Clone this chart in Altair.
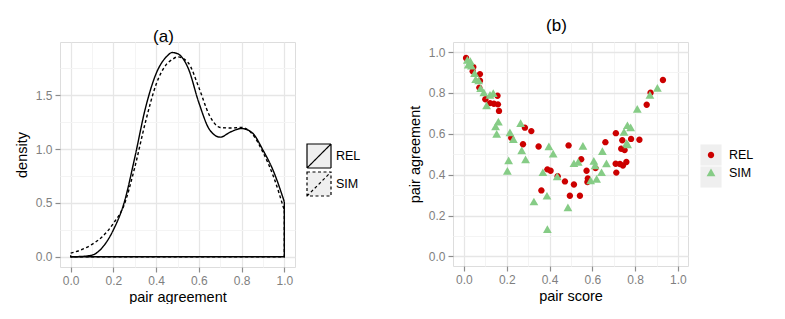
import altair as alt
import pandas as pd

# ---------------- panel (a): density curves ----------------
dens_x = [0.00, 0.05, 0.10, 0.15, 0.20, 0.25, 0.30, 0.35, 0.40, 0.45, 0.475,
          0.50, 0.55, 0.60, 0.65, 0.70, 0.75, 0.80, 0.85, 0.90, 0.95, 1.00]
dens_rel = [0.0, 0.003, 0.015, 0.09, 0.25, 0.50, 0.92, 1.38, 1.70, 1.86, 1.895,
            1.885, 1.75, 1.43, 1.18, 1.11, 1.16, 1.19, 1.15, 0.99, 0.79, 0.51]
dens_sim = [0.034, 0.065, 0.115, 0.19, 0.31, 0.48, 0.83, 1.25, 1.60, 1.79, 1.83,
            1.855, 1.80, 1.57, 1.31, 1.20, 1.195, 1.20, 1.14, 0.97, 0.74, 0.43]

series = ["REL", "SIM"]
key_ids = ["k1", "k2"]  # ids for the grey legend-key backgrounds of panel (b)

# ---------------- panel (b): scatter ----------------
rel_score = [0.010, 0.044, 0.041, 0.075, 0.075, 0.072, 0.100, 0.122, 0.140, 0.159,
             0.157, 0.164, 0.221, 0.276, 0.285, 0.315, 0.349, 0.362, 0.390, 0.405,
             0.438, 0.472, 0.489, 0.495, 0.514, 0.542, 0.548, 0.573, 0.579, 0.577,
             0.615, 0.661, 0.710, 0.709, 0.729, 0.743, 0.759, 0.712, 0.740, 0.781,
             0.820, 0.735, 0.751, 0.854, 0.872, 0.930]
rel_agree = [0.971, 0.927, 0.906, 0.892, 0.860, 0.826, 0.769, 0.750, 0.747, 0.744,
             0.786, 0.712, 0.580, 0.549, 0.630, 0.613, 0.538, 0.323, 0.426, 0.419,
             0.392, 0.367, 0.543, 0.297, 0.352, 0.297, 0.475, 0.419, 0.381, 0.364,
             0.432, 0.559, 0.603, 0.453, 0.452, 0.445, 0.462, 0.410, 0.568, 0.575,
             0.571, 0.527, 0.520, 0.742, 0.801, 0.863]

sim_score = [0.016, 0.030, 0.020, 0.035, 0.050, 0.055, 0.069, 0.078, 0.093, 0.122,
             0.137, 0.106, 0.161, 0.148, 0.153, 0.215, 0.231, 0.265, 0.270, 0.288,
             0.209, 0.203, 0.397, 0.417, 0.369, 0.436, 0.388, 0.327, 0.390, 0.486,
             0.514, 0.534, 0.556, 0.607, 0.613, 0.647, 0.666, 0.643, 0.592, 0.620,
             0.748, 0.764, 0.779, 0.760, 0.765, 0.810, 0.869, 0.904]
sim_agree = [0.959, 0.953, 0.935, 0.930, 0.894, 0.864, 0.858, 0.820, 0.800, 0.788,
             0.796, 0.736, 0.657, 0.633, 0.597, 0.604, 0.571, 0.649, 0.516, 0.472,
             0.467, 0.416, 0.536, 0.500, 0.409, 0.389, 0.294, 0.266, 0.131, 0.237,
             0.453, 0.460, 0.538, 0.465, 0.443, 0.512, 0.452, 0.409, 0.369, 0.377,
             0.607, 0.639, 0.629, 0.552, 0.545, 0.719, 0.788, 0.822]

FONT = "Liberation Sans"
GRID_MAJOR = "#e6e6e6"
GRID_MINOR = "#f4f4f4"
TICK = "#8c8c8c"

# -------- build tables --------
curve_rows = []
for s, vals in zip(series, [dens_rel, dens_sim]):
    for i, (x, y) in enumerate(zip(dens_x, vals)):
        curve_rows.append({"series": s, "x": x, "y": y, "o": i})
curve_df = pd.DataFrame(curve_rows)

close_rows = []
for s, vals in zip(series, [dens_rel, dens_sim]):
    pts = [(dens_x[-1], vals[-1]), (dens_x[-1], 0.0), (dens_x[0], 0.0), (dens_x[0], vals[0])]
    for i, (x, y) in enumerate(pts):
        close_rows.append({"series": s, "x": x, "y": y, "o": i})
close_df = pd.DataFrame(close_rows)

pts_df = pd.concat([
    pd.DataFrame({"series": "REL", "score": rel_score, "agree": rel_agree}),
    pd.DataFrame({"series": "SIM", "score": sim_score, "agree": sim_agree}),
], ignore_index=True)
pts_df["ord"] = range(len(pts_df))

key_df = pd.DataFrame({"key": key_ids})


def axis(values, mod, orient):
    test = f"round(datum.value*{mod})%2==0"
    return alt.Axis(
        values=values,
        labelExpr=f"{test} ? format(datum.value, '.1f') : ''",
        gridColor={"condition": {"test": test, "value": GRID_MAJOR}, "value": GRID_MINOR},
        gridWidth={"condition": {"test": test, "value": 1.3}, "value": 1},
        tickColor={"condition": {"test": test, "value": TICK}, "value": "transparent"},
        tickSize=5, tickWidth=1.2, labelPadding=3, domain=False,
        labelColor="#7f7f7f", labelFontSize=12, labelFont=FONT,
        titleFont=FONT, titleFontSize=14.5, titleFontWeight="normal", titleColor="black",
        titlePadding=4 if orient == "x" else 6,
    )


tenth = [round(i * 0.1, 1) for i in range(11)]
quarter = [i * 0.25 for i in range(8)]

xa = alt.X("x:Q", title="pair agreement",
           scale=alt.Scale(domain=[-0.05, 1.05], nice=False, zero=False),
           axis=axis(tenth, 10, "x"))
ya = alt.Y("y:Q", title="density",
           scale=alt.Scale(domain=[-0.095, 1.993], nice=False, zero=False),
           axis=axis(quarter, 4, "y"))

legend_a = alt.Legend(
    title=None, orient="none", legendX=246, legendY=101,
    symbolType="M-1,-1H1V1H-1Z M-1,1L1,-1", symbolSize=576,
    symbolFillColor="#efefef", symbolStrokeColor="black", symbolStrokeWidth=1.2,
    labelFont=FONT, labelFontSize=12.5, labelColor="black", labelOffset=4,
    rowPadding=-4, padding=0,
)
dash = alt.StrokeDash("series:N", scale=alt.Scale(domain=series, range=[[1, 0], [3, 2.5]]),
                      legend=legend_a)

curve = alt.Chart(curve_df).mark_line(color="black", strokeWidth=1.4, interpolate="monotone").encode(
    x=xa, y=ya, strokeDash=dash, order="o:Q")
closing = alt.Chart(close_df).mark_line(color="black", strokeWidth=1.4).encode(
    x=xa, y=ya, strokeDash=dash, order="o:Q")

title_kw = dict(font=FONT, fontSize=17, fontWeight="normal", dx=-14, offset=-4)

panel_a = alt.layer(curve, closing).properties(
    width=235, height=225, title=alt.TitleParams("(a)", **title_kw))

# ---------------- panel (b) ----------------
xb = alt.X("score:Q", title="pair score",
           scale=alt.Scale(domain=[-0.051, 1.047], nice=False, zero=False),
           axis=axis(tenth, 10, "x"))
yb = alt.Y("agree:Q", title="pair agreement",
           scale=alt.Scale(domain=[-0.047, 1.049], nice=False, zero=False),
           axis=axis(tenth, 10, "y"))

circle_path = "M-0.29,0A0.29,0.29,0,1,0,0.29,0A0.29,0.29,0,1,0,-0.29,0Z"
tri_path = "M0,-0.40L0.40,0.30L-0.40,0.30Z"

legend_b = alt.Legend(
    title=None, orient="none", legendX=247, legendY=102,
    symbolSize=484, symbolStrokeWidth=0, symbolOpacity=1,
    labelFont=FONT, labelFontSize=12.5, labelColor="black", labelOffset=7,
    rowPadding=0, padding=0,
)

points = alt.Chart(pts_df).mark_point(filled=True, size=484, opacity=1, strokeWidth=0).encode(
    x=xb, y=yb,
    color=alt.Color("series:N", scale=alt.Scale(domain=series, range=["#cc0000", "#86cc86"]),
                    legend=legend_b),
    shape=alt.Shape("series:N", scale=alt.Scale(domain=series, range=[circle_path, tri_path]),
                    legend=legend_b),
    order="ord:Q",
)

keys_bg = alt.Chart(key_df).mark_point(filled=True, size=484, opacity=0).encode(
    x=alt.value(0), y=alt.value(0),
    fill=alt.Fill("key:N", scale=alt.Scale(domain=key_ids, range=["#efefef", "#efefef"]),
                  legend=alt.Legend(title=None, orient="none", legendX=247, legendY=102,
                                    symbolType="M-0.96,-0.96H0.96V0.96H-0.96Z",
                                    symbolSize=484, symbolOpacity=1,
                                    symbolStrokeWidth=0, labelExpr="''",
                                    labelFont=FONT, labelFontSize=12.5, labelOffset=7,
                                    rowPadding=0, padding=0)),
)

panel_b = alt.layer(keys_bg, points).properties(
    width=235, height=224, title=alt.TitleParams("(b)", **title_kw))

chart = alt.hconcat(panel_a, panel_b, spacing=44).resolve_scale(
    strokeDash="independent", color="independent", shape="independent", fill="independent"
).resolve_legend(
    strokeDash="independent", color="independent", shape="independent", fill="independent"
).properties(
    padding={"left": 5, "top": 8, "right": 0, "bottom": 0}
).configure_view(
    stroke="#bdbdbd", strokeWidth=1.2
).configure(
    font=FONT
)

chart.save("out.html", embed_options={"renderer": "svg", "actions": False})
